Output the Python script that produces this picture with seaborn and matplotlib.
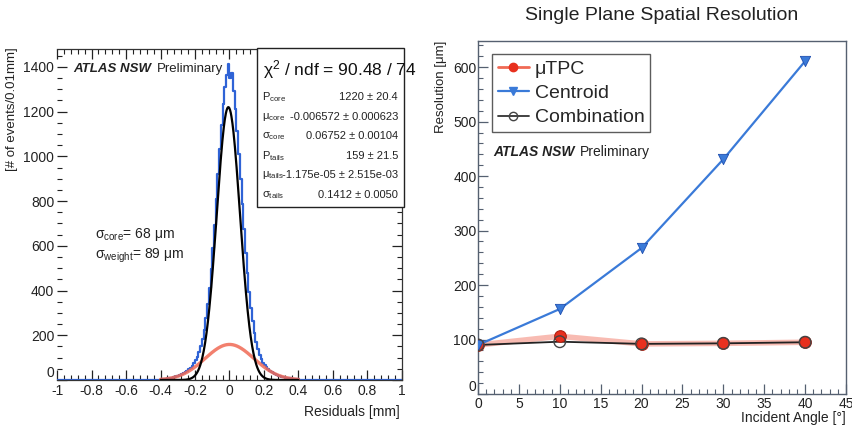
import numpy as np
import pandas as pd
import seaborn as sns
import matplotlib.pyplot as plt
from matplotlib.patches import Rectangle
from matplotlib.lines import Line2D
from matplotlib.ticker import MultipleLocator

sns.set_style("ticks")
plt.rcParams['font.family'] = ['Liberation Sans', 'DejaVu Sans']
plt.rcParams['mathtext.fontset'] = 'custom'
plt.rcParams['mathtext.rm'] = 'Liberation Sans'
plt.rcParams['mathtext.it'] = 'Liberation Sans:italic'

# ----------------------------
# Left panel: residual histogram (0.01 mm bins), counts
# ----------------------------
hist_lo, hist_hi = -0.40, 0.40
hist_counts = [
    3, 4, 5, 6, 8, 9, 11, 12, 14, 17,
    19, 22, 26, 30, 35, 41, 47, 55, 64, 74,
    88, 104, 124, 150, 182, 224, 276, 338, 410, 496,
    590, 695, 808, 920, 1035, 1140, 1235, 1310, 1365, 1415,
    1350, 1372, 1290, 1210, 1115, 1010, 900, 785, 675, 570,
    478, 395, 322, 262, 212, 170, 138, 112, 93, 78,
    66, 56, 48, 42, 36, 31, 27, 23, 20, 17,
    15, 13, 11, 9, 8, 7, 6, 5, 4, 3,
]

# double gaussian fit results (stat box)
p_core, mu_core, sig_core = 1220, -0.006572, 0.06752
p_tails, mu_tails, sig_tails = 159, -1.175e-05, 0.1412
stat_labels = [r"P$_{\rm core}$", r"μ$_{\rm core}$", r"σ$_{\rm core}$",
               r"P$_{\rm tails}$", r"μ$_{\rm tails}$", r"σ$_{\rm tails}$"]
stat_values = ["1220 ± 20.4", "-0.006572 ± 0.000623", "0.06752 ± 0.00104",
               "159 ± 21.5", "-1.175e-05 ± 2.515e-03", "0.1412 ± 0.0050"]

# ----------------------------
# Right panel: resolution vs incident angle
# ----------------------------
angles = [0, 10, 20, 30, 40]
res_utpc = [90, 106, 92, 93, 95]
res_centroid = [90, 156, 268, 431, 611]
res_comb = [90, 96, 92, 93, 95]

BLUE = "#2f63d6"
RED = "#f06a55"
LBLUE = "#3a7ad8"
FRAME = "#556070"

fig = plt.figure(figsize=(8.53, 4.25), dpi=100)

# ---- left histogram ----
ax1 = fig.add_axes([57/853, 1-380/425, 345/853, 331/425])
centers = np.round(np.arange(-0.995, 1.0, 0.01), 3)
counts = np.zeros(len(centers))
i0 = int(round((hist_lo + 1.0) / 0.01))
counts[i0:i0 + len(hist_counts)] = hist_counts
hist_df = pd.DataFrame({"x": centers, "n": counts})
sns.histplot(data=hist_df, x="x", weights="n", bins=200, binrange=(-1, 1),
             element="step", fill=False, color=BLUE, linewidth=1.6, ax=ax1)

xf = np.linspace(-0.4, 0.4, 400)
fit_df = pd.DataFrame({
    "x": xf,
    "core": p_core * np.exp(-0.5 * ((xf - mu_core) / sig_core) ** 2),
    "tails": p_tails * np.exp(-0.5 * ((xf - mu_tails) / sig_tails) ** 2),
})
sns.lineplot(data=fit_df, x="x", y="tails", color=RED, linewidth=2.4, alpha=0.85, ax=ax1)
sns.lineplot(data=fit_df, x="x", y="core", color="black", linewidth=1.6, ax=ax1)

ax1.set_xlim(-1, 1)
ax1.set_ylim(0, 1480)
ax1.set_xlabel("")
ax1.set_ylabel("")
ax1.xaxis.set_major_locator(MultipleLocator(0.2))
ax1.xaxis.set_minor_locator(MultipleLocator(0.04))
ax1.yaxis.set_major_locator(MultipleLocator(200))
ax1.yaxis.set_minor_locator(MultipleLocator(50))
ax1.set_xticks(np.round(np.arange(-1, 1.01, 0.2), 1))
ax1.set_xticklabels(["-1", "-0.8", "-0.6", "-0.4", "-0.2", "0", "0.2", "0.4", "0.6", "0.8", "1"])
ax1.tick_params(which="both", direction="in", top=True, right=True, labelsize=10, colors="#222")
ax1.tick_params(which="major", length=7, width=0.9)
ax1.tick_params(which="minor", length=3.5, width=0.8)
ax1.tick_params(axis="y", pad=2)
ax1.tick_params(axis="x", pad=3)
ax1.spines["left"].set_visible(False)
for s in ["top", "right", "bottom"]:
    ax1.spines[s].set_color("#333")
    ax1.spines[s].set_linewidth(0.9)

t = ax1.text(0.046, 0.94, "ATLAS NSW", transform=ax1.transAxes, fontsize=9.5,
             fontweight="bold", fontstyle="italic", color="#222", va="center")
ax1.annotate("Preliminary", xy=(1, 0.5), xycoords=t, xytext=(4, 0),
             textcoords="offset points", va="center", fontsize=9.5, color="#222")
ax1.text(38/345, (380-234)/331, r"σ$_{\rm core}$= 68 μm", transform=ax1.transAxes,
         fontsize=10, va="center", color="#222")
ax1.text(38/345, (380-256)/331, r"σ$_{\rm weight}$= 89 μm", transform=ax1.transAxes,
         fontsize=10, va="center", color="#222")

fig.text(12/853, 1-47/425, "[# of events/0.01mm]", rotation=90, ha="center", va="top",
         fontsize=9.5, color="#222")
fig.text(400/853, 1-412/425, "Residuals [mm]", ha="right", va="center", fontsize=10, color="#222")

# stat box
bx0, by0, bx1, by1 = 257, 48, 404, 207
fig.patches.append(Rectangle((bx0/853, 1-by1/425), (bx1-bx0)/853, (by1-by0)/425,
                             transform=fig.transFigure, facecolor="white",
                             edgecolor="#222", linewidth=1.0, zorder=5))
fig.text((bx0+6)/853, 1-70/425, r"χ$^2$ / ndf = 90.48 / 74", fontsize=12.5,
         va="center", color="#111", zorder=6)
for k, (lab, val) in enumerate(zip(stat_labels, stat_values)):
    yy = 1 - (97 + 19.6 * k) / 425
    fig.text((bx0+5)/853, yy, lab, fontsize=8, va="center", color="#222", zorder=6)
    fig.text((bx1-6)/853, yy, val, fontsize=8, va="center", ha="right", color="#222", zorder=6)

# ---- right resolution plot ----
ax2 = fig.add_axes([478/853, 1-394/425, 368/853, 353/425])
res_df = pd.DataFrame({"angle": angles, "utpc": res_utpc,
                       "centroid": res_centroid, "comb": res_comb})
sns.lineplot(data=res_df, x="angle", y="utpc", color=RED, linewidth=4, alpha=0.45, ax=ax2)
sns.lineplot(data=res_df, x="angle", y="centroid", color=LBLUE, linewidth=1.6, ax=ax2)
sns.lineplot(data=res_df, x="angle", y="comb", color="#222", linewidth=1.3, ax=ax2)
sns.scatterplot(data=res_df, x="angle", y="utpc", color="#e8301e", edgecolor="#b02010",
                s=70, linewidth=0.8, zorder=4, ax=ax2)
sns.scatterplot(data=res_df, x="angle", y="centroid", color=LBLUE, edgecolor="#1f4fb0",
                marker="v", s=55, linewidth=0.6, zorder=4, ax=ax2)
ax2.scatter(res_df["angle"], res_df["comb"], s=70, facecolors="none",
            edgecolors="#444", linewidths=1.0, zorder=5)

ax2.set_xlim(0, 45)
ax2.set_ylim(0, 648)
ax2.set_xlabel("")
ax2.set_ylabel("")
ax2.xaxis.set_major_locator(MultipleLocator(5))
ax2.xaxis.set_minor_locator(MultipleLocator(1))
ax2.yaxis.set_major_locator(MultipleLocator(100))
ax2.yaxis.set_minor_locator(MultipleLocator(20))
ax2.tick_params(which="both", direction="in", labelsize=10, colors="#222")
ax2.tick_params(which="major", length=7, width=0.9, color=FRAME)
ax2.tick_params(which="minor", length=3.5, width=0.8, color=FRAME)
ax2.tick_params(axis="y", pad=1)
ax2.tick_params(axis="x", pad=2)
for s in ax2.spines.values():
    s.set_color(FRAME)
    s.set_linewidth(1.0)

handles = [
    Line2D([], [], color=RED, lw=2, marker="o", markersize=6, markerfacecolor="#e8301e",
           markeredgecolor="#e8301e", label="μTPC"),
    Line2D([], [], color=LBLUE, lw=1.6, marker="v", markersize=6, label="Centroid"),
    Line2D([], [], color="#333", lw=1.3, marker="o", markersize=6, markerfacecolor="none",
           markeredgecolor="#444", label="Combination"),
]
leg = ax2.legend(handles=handles, loc="upper left", bbox_to_anchor=(0.038, 0.963),
                 fontsize=14, frameon=True, fancybox=False, handlelength=1.6,
                 handletextpad=0.3, labelspacing=0.35, borderpad=0.3, borderaxespad=0)
leg.get_frame().set_edgecolor("#333")
leg.get_frame().set_linewidth(1.0)

t2 = ax2.text(15/368, (394-152)/353, "ATLAS NSW", transform=ax2.transAxes, fontsize=10,
              fontweight="bold", fontstyle="italic", color="#222", va="center")
ax2.annotate("Preliminary", xy=(1, 0.5), xycoords=t2, xytext=(4, 0),
             textcoords="offset points", va="center", fontsize=10, color="#222")

fig.text(441/853, 1-41/425, "Resolution [μm]", rotation=90, ha="center", va="top",
         fontsize=9.5, color="#222")
fig.text(846/853, 1-418/425, "Incident Angle [°]", ha="right", va="center",
         fontsize=10, color="#222")
fig.text(662/853, 1-15/425, "Single Plane Spatial Resolution", ha="center", va="center",
         fontsize=14, color="#222")

# lift the "0" y labels a little so they do not sit on the x labels
fig.canvas.draw()
for a in (ax1, ax2):
    for tk in a.yaxis.get_major_ticks():
        if abs(tk.get_loc()) < 1e-9:
            tk.label1.set_verticalalignment("bottom")

fig.savefig("out.png", dpi=100)
